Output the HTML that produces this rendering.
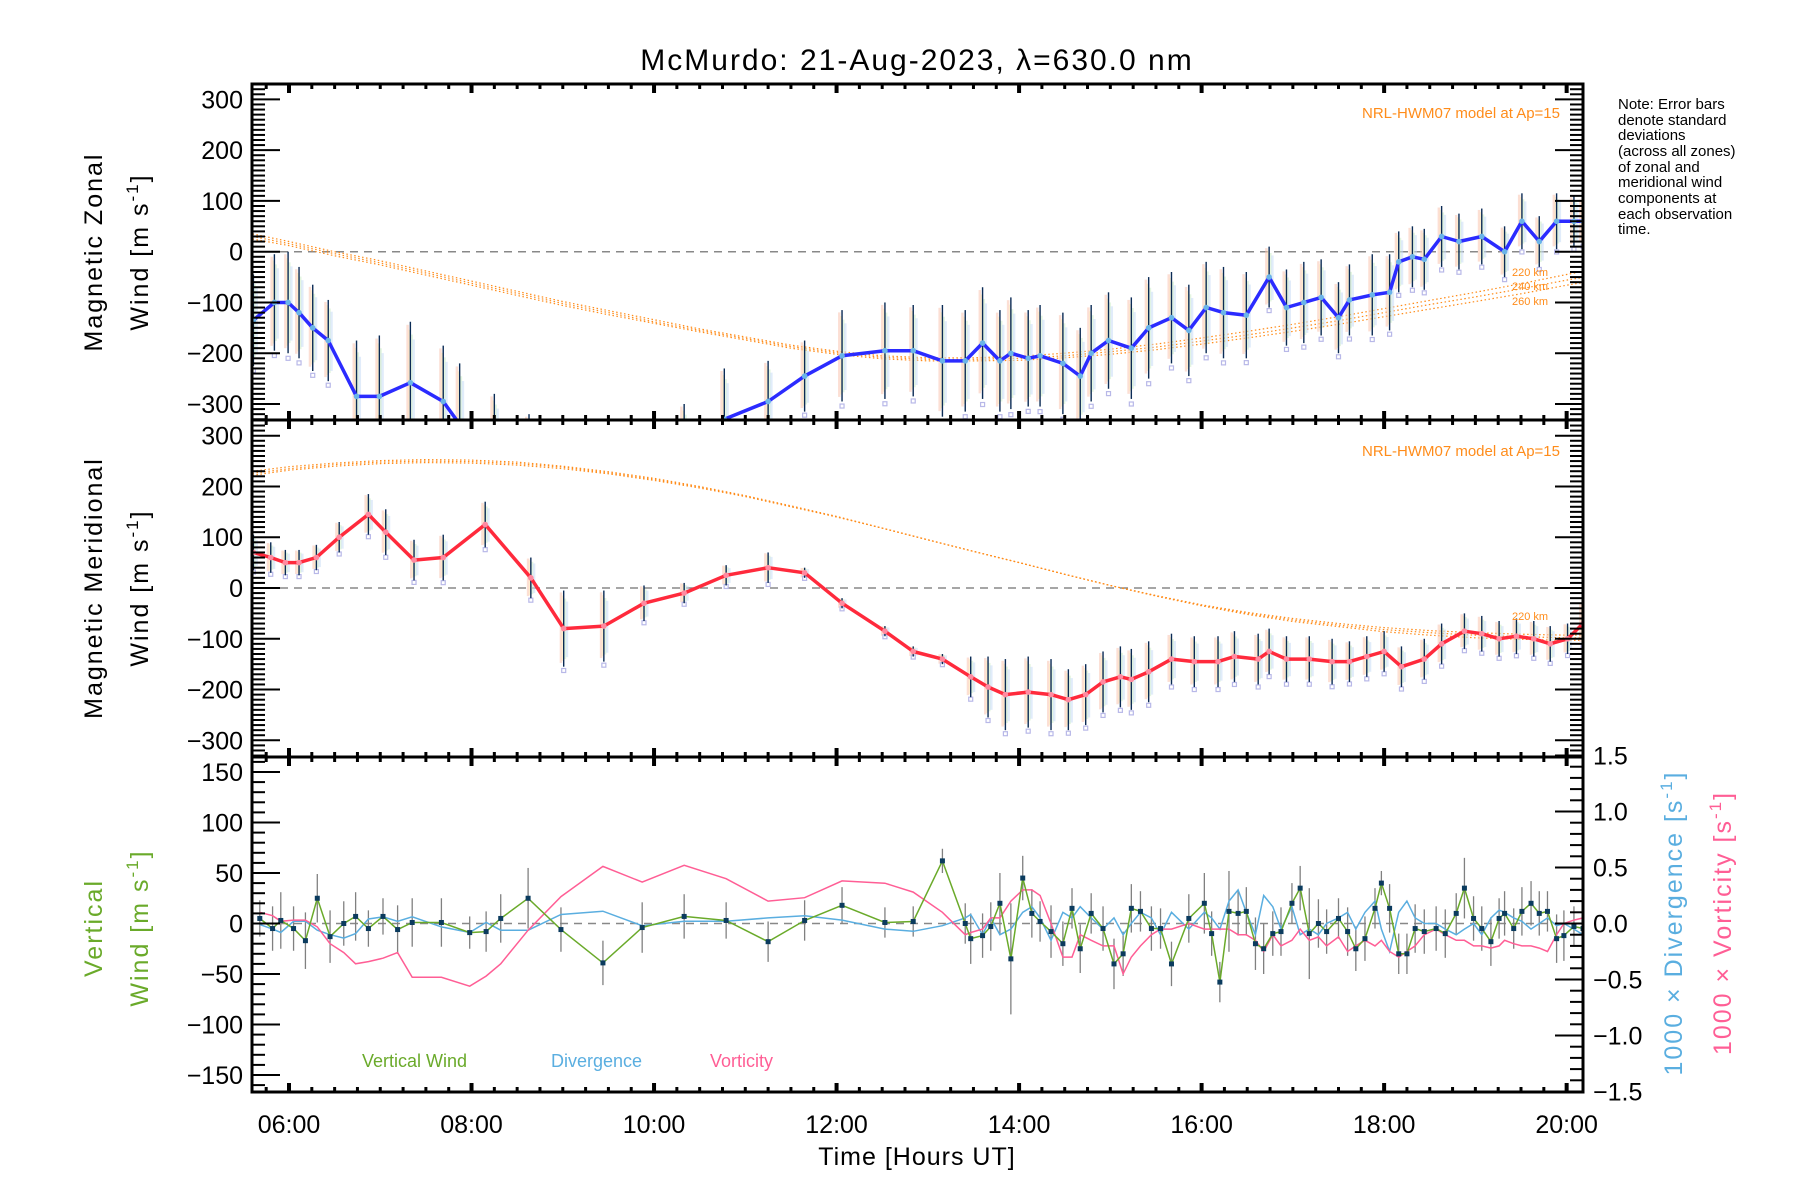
<!DOCTYPE html>
<html><head><meta charset="utf-8"><style>
html,body{margin:0;padding:0;background:#fff;}
svg{display:block;}
text{font-family:"Liberation Sans","DejaVu Sans",sans-serif;}
</style></head><body>
<svg id="chart" xmlns="http://www.w3.org/2000/svg" width="1800" height="1200" viewBox="0 0 1800 1200">
<defs>
<clipPath id="c1"><rect x="252" y="84" width="1331" height="336"/></clipPath>
<clipPath id="c2"><rect x="252" y="420" width="1331" height="337"/></clipPath>
<clipPath id="c3"><rect x="252" y="757" width="1331" height="335"/></clipPath>
</defs>
<text x="917" y="70" font-size="30" text-anchor="middle" letter-spacing="2">McMurdo: 21‑Aug‑2023, λ=630.0 nm</text>
<g id="g-data"></g>
<g id="g-axes"></g>
<text x="1560" y="118" font-size="15" fill="#ff8c1a" text-anchor="end">NRL‑HWM07 model at Ap=15</text>
<text x="1560" y="456" font-size="15" fill="#ff8c1a" text-anchor="end">NRL‑HWM07 model at Ap=15</text>
<g font-size="11" fill="#ff8c1a">
<text x="1512" y="276">220 km</text><text x="1512" y="290">240 km</text><text x="1512" y="305">260 km</text>
<text x="1512" y="620">220 km</text>
</g>
<g font-size="15">
<text x="1618" y="109">Note: Error bars</text>
<text x="1618" y="125">denote standard</text>
<text x="1618" y="140">deviations</text>
<text x="1618" y="156">(across all zones)</text>
<text x="1618" y="172">of zonal and</text>
<text x="1618" y="187">meridional wind</text>
<text x="1618" y="203">components at</text>
<text x="1618" y="219">each observation</text>
<text x="1618" y="234">time.</text>
</g>
<g font-size="25" letter-spacing="2">
<text transform="translate(102,252) rotate(-90)" text-anchor="middle">Magnetic Zonal</text>
<text transform="translate(148,252) rotate(-90)" text-anchor="middle">Wind [m s<tspan dy="-10" font-size="17">-1</tspan><tspan dy="10">]</tspan></text>
<text transform="translate(102,588) rotate(-90)" text-anchor="middle">Magnetic Meridional</text>
<text transform="translate(148,588) rotate(-90)" text-anchor="middle">Wind [m s<tspan dy="-10" font-size="17">-1</tspan><tspan dy="10">]</tspan></text>
<text transform="translate(102,928) rotate(-90)" text-anchor="middle" fill="#6aaa2a">Vertical</text>
<text transform="translate(148,928) rotate(-90)" text-anchor="middle" fill="#6aaa2a">Wind [m s<tspan dy="-10" font-size="17">-1</tspan><tspan dy="10">]</tspan></text>
<text transform="translate(1682,923) rotate(-90)" text-anchor="middle" fill="#5aaee0">1000 × Divergence [s<tspan dy="-10" font-size="17">-1</tspan><tspan dy="10">]</tspan></text>
<text transform="translate(1731,923) rotate(-90)" text-anchor="middle" fill="#ff5e95">1000 × Vorticity [s<tspan dy="-10" font-size="17">-1</tspan><tspan dy="10">]</tspan></text>
</g>
<text x="917" y="1165" font-size="25" text-anchor="middle" letter-spacing="1">Time [Hours UT]</text>
<g font-size="18">
<text x="362" y="1067" fill="#6aaa2a">Vertical Wind</text>
<text x="551" y="1067" fill="#5aaee0">Divergence</text>
<text x="710" y="1067" fill="#ff5e95">Vorticity</text>
</g>
</svg>
<script>
const zonalT=[5.61,5.84,5.99,6.11,6.26,6.43,6.74,6.99,7.33,7.69,7.87,8.25,8.63,9.01,9.45,9.89,10.33,10.77,11.25,11.65,12.06,12.53,12.84,13.16,13.41,13.60,13.79,13.91,14.10,14.23,14.48,14.67,14.79,14.98,15.23,15.42,15.67,15.86,16.05,16.24,16.49,16.74,16.93,17.12,17.31,17.50,17.62,17.87,18.06,18.16,18.31,18.44,18.63,18.82,19.07,19.32,19.51,19.70,19.89,20.08,20.18];
const zonalV=[-135,-100,-100,-120,-150,-175,-285,-285,-258,-295,-340,-380,-420,-450,-440,-430,-400,-330,-295,-245,-205,-195,-195,-215,-215,-180,-215,-200,-210,-205,-220,-245,-200,-175,-190,-150,-130,-155,-110,-120,-125,-50,-110,-100,-90,-130,-95,-85,-80,-20,-10,-15,30,20,30,0,60,20,60,60,60];
const zonalE=[90,95,100,90,85,80,110,120,120,110,120,100,100,100,100,100,100,100,80,70,90,95,90,110,100,110,100,110,95,100,100,95,95,95,100,100,90,90,90,90,85,60,75,80,75,70,70,80,75,60,60,60,60,55,55,50,55,50,55,50,45];
const merT=[5.61,5.80,5.96,6.11,6.30,6.55,6.87,7.06,7.37,7.69,8.15,8.65,9.01,9.45,9.89,10.33,10.79,11.25,11.65,12.06,12.53,12.84,13.16,13.47,13.66,13.85,14.10,14.35,14.54,14.73,14.92,15.11,15.23,15.42,15.67,15.92,16.18,16.36,16.62,16.74,16.93,17.18,17.43,17.62,17.81,18.00,18.19,18.44,18.63,18.88,19.07,19.26,19.45,19.64,19.82,20.01,20.18];
const merV=[70,60,50,50,60,100,145,110,55,60,125,20,-80,-75,-30,-10,25,40,30,-30,-85,-125,-140,-175,-195,-210,-205,-210,-220,-210,-185,-175,-180,-165,-140,-145,-145,-135,-140,-125,-140,-140,-145,-145,-135,-125,-155,-140,-110,-85,-90,-100,-95,-100,-110,-100,-70];
const merE=[35,30,25,25,25,30,40,45,40,45,45,40,75,70,35,20,20,30,10,10,10,10,10,40,60,70,70,70,60,60,60,60,60,60,50,50,50,50,50,45,45,45,45,40,40,40,40,40,40,35,35,35,35,35,35,30,40];
const modelT=[5.6,6,6.5,7,7.5,8,8.5,9,9.5,10,10.5,11,11.5,12,12.5,13,13.5,14,14.5,15,15.5,16,16.5,17,17.5,18,18.5,19,19.5,20,20.2];
const zonal220=[35,20,0,-18,-38,-58,-78,-98,-116,-134,-152,-168,-184,-196,-205,-209,-209,-206,-200,-192,-182,-170,-157,-143,-128,-112,-96,-80,-63,-45,-38];
const zonal240=[30,16,-4,-22,-42,-62,-82,-102,-120,-138,-155,-171,-187,-199,-208,-212,-212,-210,-205,-197,-188,-176,-164,-150,-136,-120,-104,-89,-73,-56,-50];
const zonal260=[25,12,-8,-26,-46,-66,-86,-106,-124,-141,-158,-174,-190,-202,-211,-215,-215,-214,-209,-202,-193,-182,-170,-157,-143,-128,-113,-98,-83,-66,-60];
const mer220=[222,232,240,245,247,246,242,235,225,212,197,180,160,140,118,95,72,50,27,5,-15,-33,-48,-60,-70,-78,-84,-88,-91,-93,-93];
const mer240=[226,235,243,248,250,249,245,238,227,214,199,181,161,140,118,95,72,50,27,5,-15,-34,-50,-63,-73,-82,-88,-93,-96,-98,-98];
const mer260=[230,239,246,251,253,252,248,240,229,216,200,182,162,141,118,95,72,50,27,5,-16,-35,-52,-66,-76,-86,-93,-98,-101,-103,-103];
const vwT=[5.68,5.82,5.91,6.05,6.18,6.31,6.45,6.60,6.73,6.87,7.03,7.19,7.35,7.67,7.98,8.16,8.32,8.62,8.98,9.44,9.87,10.33,10.79,11.25,11.65,12.06,12.53,12.84,13.16,13.41,13.47,13.60,13.69,13.79,13.91,14.04,14.14,14.23,14.35,14.48,14.58,14.67,14.79,14.92,15.04,15.14,15.23,15.33,15.45,15.55,15.67,15.86,16.03,16.11,16.20,16.30,16.40,16.49,16.59,16.68,16.78,16.87,16.99,17.08,17.18,17.28,17.37,17.50,17.60,17.69,17.79,17.90,17.97,18.06,18.16,18.25,18.34,18.44,18.57,18.67,18.79,18.88,18.98,19.07,19.17,19.26,19.32,19.42,19.51,19.61,19.70,19.79,19.89,19.97,20.08,20.18];
const vwV=[5,-5,3,-5,-17,25,-13,0,7,-5,7,-6,1,1,-9,-8,5,25,-6,-39,-4,7,3,-18,3,18,1,2,62,0,-15,-12,-3,20,-35,45,10,2,-8,-20,15,-25,10,-5,-40,-30,15,12,-5,-5,-40,5,20,-10,-58,12,10,12,-20,-25,-10,-8,20,35,-10,0,-8,5,-8,-25,-15,15,40,15,-30,-30,-5,-8,-5,-10,10,35,5,-5,-18,5,10,-5,12,20,10,12,-15,-12,-3,-5];
const vwE=[18,22,28,22,28,24,26,22,24,18,18,24,24,24,16,20,24,30,22,22,25,22,18,20,20,18,15,15,12,20,25,22,24,30,55,22,24,20,26,22,20,24,20,22,25,22,24,20,22,20,22,24,30,22,20,40,22,24,26,25,22,24,20,22,45,24,22,20,24,22,22,20,12,24,20,20,24,22,22,24,20,30,22,22,24,20,22,20,24,22,22,20,24,25,20,18];
const divV=[-0.01,-0.05,-0.08,0.02,0.02,-0.06,-0.1,-0.13,-0.09,0.04,0.06,0.02,0.06,-0.03,-0.08,0.01,-0.06,-0.06,0.08,0.11,-0.02,0.02,0.02,0.05,0.07,0.03,-0.05,-0.07,-0.02,0.05,0.08,-0.1,0.05,-0.1,-0.05,0.1,0.15,0.05,-0.15,0.1,0.05,0.15,0.05,-0.05,0.05,-0.1,0,0.1,0.05,-0.1,0.1,-0.05,0.1,0.05,-0.05,0.2,0.3,0.1,-0.1,0.25,0.15,-0.05,0.15,-0.1,-0.05,-0.1,0,0.05,0.1,-0.05,0.1,0.2,-0.05,-0.25,0.1,0.2,0.05,0,0,-0.05,-0.1,-0.05,0,-0.1,0.05,0.12,0.1,0.05,0.02,-0.05,0,0.05,-0.02,0,-0.05,-0.1];
const vorV=[0.1,0.07,0.02,0.03,0.03,-0.03,-0.18,-0.26,-0.36,-0.34,-0.31,-0.26,-0.48,-0.48,-0.56,-0.47,-0.36,-0.06,0.24,0.51,0.37,0.52,0.4,0.2,0.23,0.38,0.36,0.28,0.1,-0.1,-0.08,-0.05,0.05,0.05,0.2,0.3,0.3,0.25,0.0,-0.3,-0.3,-0.1,-0.15,-0.2,-0.2,-0.45,-0.3,-0.2,-0.1,-0.05,-0.05,0,-0.05,-0.05,-0.05,-0.05,-0.1,-0.1,-0.15,-0.25,-0.1,-0.2,-0.15,-0.05,-0.15,-0.12,-0.2,-0.12,-0.25,-0.2,-0.15,-0.2,-0.15,-0.25,-0.3,-0.25,-0.2,-0.1,-0.05,-0.1,-0.15,-0.15,-0.2,-0.2,-0.22,-0.2,-0.15,-0.18,-0.2,-0.2,-0.22,-0.25,-0.1,0.0,0.03,0.05];
const windTicks=[300,200,100,0,-100,-200,-300];
const vertTicks=[150,100,50,0,-50,-100,-150];
const rightTicks=["1.5","1.0","0.5","0.0","−0.5","−1.0","−1.5"];
const hourTicks=["06:00","08:00","10:00","12:00","14:00","16:00","18:00","20:00"];

const NS="http://www.w3.org/2000/svg";
const X0=252,X1=1583;
function xs(h){return 289+(h-6)*91.26;}
function y1(v){return 251.7-v*0.5077;}
function y2(v){return 588-v*0.5077;}
function y3(v){return 923.5-v*1.01;}
function y3r(v){return 923.5-v*112;}
const gData=document.getElementById('g-data');
const gAx=document.getElementById('g-axes');
function mk(tag,attrs,parent){const e=document.createElementNS(NS,tag);for(const k in attrs)e.setAttribute(k,attrs[k]);parent.appendChild(e);return e;}
function pts(T,V,fy){return T.map((t,i)=>xs(t).toFixed(1)+','+fy(V[i]).toFixed(1)).join(' ');}

function windPanel(clip,fy,T,V,E,m1,m2,m3,lineCol,dotCol,nm){
  const g=mk('g',{'clip-path':'url(#'+clip+')'},gData);
  
  
  const z=mk('line',{x1:X0,x2:X1,y1:fy(0),y2:fy(0),stroke:'#888','stroke-width':1.5,'stroke-dasharray':'8,6'},g);
  
  
  [m1,m2,m3].forEach((m,k)=>{
    const p=mk('polyline',{points:pts(modelT,m,fy),fill:'none',stroke:'#ff8c1a','stroke-width':1.2,'stroke-dasharray':'1.5,2.5'},g);
    
    
  });
  const cols=['#f9c4b0','#fde6b0','#cdeec8','#c8dcf6'];
  T.forEach((t,i)=>{
    const x=xs(t),v=V[i],e=E[i];
    cols.forEach((c,k)=>{
      const top=fy(v+e*(0.95-0.08*k)),bot=fy(v-e*(0.9-0.05*k));
      const r=mk('rect',{x:x-4+k*2,y:top,width:2.5,height:Math.max(2,bot-top),fill:c,opacity:0.55},g);
      
      
    });
    const sq=mk('rect',{x:x-2,y:fy(v-e*1.1)-2,width:4,height:4,fill:'none',stroke:'#b8b8e8','stroke-width':1.2},g);
    
    
    const eb=mk('line',{x1:x,x2:x,y1:fy(v+e),y2:fy(v-e),stroke:'#0b2b55','stroke-width':1.4},g);
    
    
  });
  const ln=mk('polyline',{points:pts(T,V,fy),fill:'none',stroke:lineCol,'stroke-width':3.5,'stroke-linejoin':'round'},g);
  
  
  T.forEach((t,i)=>{
    const c=mk('circle',{cx:xs(t),cy:fy(V[i]),r:2.8,fill:dotCol},g);
    
    
  });
}
windPanel('c1',y1,zonalT,zonalV,zonalE,zonal220,zonal240,zonal260,'#2b2bff','#6ab4e8','zonal');
windPanel('c2',y2,merT,merV,merE,mer220,mer240,mer260,'#ff2a3c','#ff8aa0','meridional');

(function(){
  const g=mk('g',{'clip-path':'url(#c3)'},gData);
  
  
  const z=mk('line',{x1:X0,x2:X1,y1:y3(0),y2:y3(0),stroke:'#888','stroke-width':1.5,'stroke-dasharray':'8,6'},g);
  
  
  vwT.forEach((t,i)=>{
    const l=mk('line',{x1:xs(t),x2:xs(t),y1:y3(vwV[i]+vwE[i]),y2:y3(vwV[i]-vwE[i]),stroke:'#808080','stroke-width':1.3},g);
    
    
  });
  const dv=mk('polyline',{points:pts(vwT,divV,y3r),fill:'none',stroke:'#5aaee0','stroke-width':1.5},g);
  
  
  const vo=mk('polyline',{points:pts(vwT,vorV,y3r),fill:'none',stroke:'#ff5e95','stroke-width':1.5},g);
  
  
  const vw=mk('polyline',{points:pts(vwT,vwV,y3),fill:'none',stroke:'#6aaa2a','stroke-width':1.5},g);
  
  
  vwT.forEach((t,i)=>{
    const r=mk('rect',{x:xs(t)-2.5,y:y3(vwV[i])-2.5,width:5,height:5,fill:'#0b3b5e'},g);
    
    
  });
})();

function frame(top,bot,nm){
  const r=mk('rect',{x:X0,y:top,width:X1-X0,height:bot-top,fill:'none',stroke:'#000','stroke-width':3},gAx);
  
  
  for(let q=0;q*0.25+5.75<=20.18;q++){
    const h=5.75+q*0.25; if(xs(h)<X0)continue;
    const major=(Math.round(h*4)%8===0);
    const L=major?9:5, w=major?4:3;
    const a=mk('line',{x1:xs(h),x2:xs(h),y1:top,y2:top+L,stroke:'#000','stroke-width':w},gAx);
    
    
    const b=mk('line',{x1:xs(h),x2:xs(h),y1:bot,y2:bot-L,stroke:'#000','stroke-width':w},gAx);
    
    
  }
}
function yTicks(fy,lo,hi,minor,major,labels,right,lab){
  for(let v=lo;v<=hi+1e-9;v+=minor){
    const y=fy(v); const isM=Math.abs(Math.round(v/major)*major-v)<1e-6;
    const L=isM?28:13;
    const x0=right?X1:X0, x1=right?X1-L:X0+L;
    const t=mk('line',{x1:x0,x2:x1,y1:y,y2:y,stroke:'#000','stroke-width':2},gAx);
    
    
  }
  if(lab) labels.forEach((s,i)=>{
    const t=mk('text',{x:right?X1+10:243,y:fy(lab[i])+9,'font-size':25,'text-anchor':right?'start':'end'},gAx);
    t.textContent=s;
    
    
  });
}
frame(84,420,'zonal');frame(420,757,'meridional');frame(757,1092,'vertical');
const windLab=windTicks.map(v=>v<0?'−'+(-v):String(v));
yTicks(y1,-330,330,10,100,windLab,false,windTicks);
yTicks(y1,-330,330,10,100,[],true,null);
yTicks(y2,-330,330,10,100,windLab,false,windTicks);
yTicks(y2,-330,330,10,100,[],true,null);
const vertLab=vertTicks.map(v=>v<0?'−'+(-v):String(v));
yTicks(y3,-160,160,10,50,vertLab,false,vertTicks);
yTicks(y3r,-1.5,1.5,0.1,0.5,rightTicks,true,[1.5,1,0.5,0,-0.5,-1,-1.5]);
hourTicks.forEach((s,i)=>{
  const t=mk('text',{x:xs(6+2*i),y:1133,'font-size':25,'text-anchor':'middle'},gAx);
  t.textContent=s;
  
  
});
</script>
</body></html>
